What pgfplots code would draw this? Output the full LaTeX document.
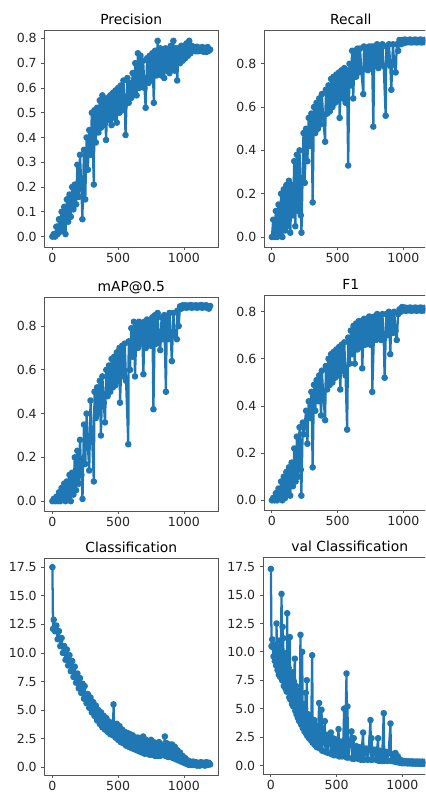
\documentclass[border=0pt]{standalone}
\usepackage{fontspec}
\setmainfont{DejaVu Sans}
\usepackage{pgfplots}
\pgfplotsset{compat=1.18}
\definecolor{mplblue}{HTML}{1F77B4}
\definecolor{framec}{HTML}{555555}
\pgfplotsset{
  sub/.style={
    scale only axis, anchor=south west,
    width=130.125pt,
    xmin=-60, xmax=1259,
    xtick={0,500,1000},
    xtick pos=bottom, ytick pos=left,
    tick align=outside, major tick length=2.3pt,
    axis line style={framec, line width=0.6pt},
    every tick/.style={framec, line width=0.6pt},
    tick label style={font=\fontsize{9.4}{11}\selectfont, color=black!85},
    /pgf/number format/assume math mode=true,
    every axis title shift=0pt,
    title style={font=\fontsize{10.4}{12}\selectfont, at={(0.5,1)}, anchor=base, yshift=4.3pt},
    yticklabel style={/pgf/number format/fixed, /pgf/number format/precision=1, /pgf/number format/fixed zerofill},
    xticklabel style={/pgf/number format/fixed, /pgf/number format/1000 sep={}, yshift=1.2pt},
  },
  ser/.style={mplblue, line width=1.7pt, line join=round, mark=*, mark size=1.6pt, mark options={draw=none, fill=mplblue}},
}
\begin{document}
\begin{tikzpicture}
\useasboundingbox (0,0) rectangle (318.75pt,594pt);
\clip (0,0) rectangle (318.75pt,594pt);

% Precision
\begin{axis}[sub, at={(33.375pt,408.75pt)}, height=162.75pt, ymin=-0.042, ymax=0.834,
  ytick={0,0.1,0.2,0.3,0.4,0.5,0.6,0.7,0.8}, title={Precision}]
\addplot[ser] table {
0 0.00
10 0.01
20 0.00
30 0.04
40 0.01
50 0.07
60 0.02
70 0.10
80 0.03
90 0.12
100 0.01
110 0.15
120 0.06
130 0.17
140 0.08
150 0.20
160 0.11
170 0.21
180 0.13
190 0.29
200 0.16
210 0.33
220 0.20
228 0.07
240 0.35
250 0.15
260 0.40
270 0.27
280 0.43
290 0.33
300 0.50
315 0.21
320 0.51
330 0.38
340 0.52
350 0.42
360 0.55
370 0.44
380 0.57
390 0.45
400 0.55
408 0.39
420 0.56
430 0.47
440 0.57
450 0.45
460 0.58
470 0.48
480 0.59
490 0.46
500 0.60
510 0.50
520 0.61
530 0.51
540 0.63
550 0.53
556 0.41
570 0.64
580 0.54
590 0.62
600 0.56
610 0.66
620 0.58
630 0.70
640 0.57
650 0.74
660 0.60
670 0.73
680 0.61
690 0.71
700 0.60
709 0.52
720 0.72
730 0.62
740 0.73
750 0.63
760 0.74
771 0.54
780 0.75
790 0.65
800 0.79
810 0.66
820 0.76
830 0.65
840 0.75
850 0.64
860 0.76
870 0.67
880 0.75
890 0.66
900 0.77
910 0.68
920 0.79
930 0.67
940 0.76
949 0.63
960 0.76
970 0.70
980 0.77
990 0.71
1000 0.77
1010 0.72
1020 0.78
1030 0.73
1040 0.79
1050 0.74
1060 0.77
1070 0.75
1080 0.765
1090 0.748
1100 0.766
1110 0.748
1120 0.762
1130 0.75
1140 0.765
1150 0.746
1160 0.76
1170 0.745
1180 0.765
1190 0.75
1199 0.755
};
\end{axis}

% Recall
\begin{axis}[sub, at={(198pt,408.75pt)}, height=162.75pt, ymin=-0.046, ymax=0.956,
  ytick={0,0.2,0.4,0.6,0.8}, title={Recall}]
\addplot[ser] table {
0 0.00
10 0.08
20 0.00
30 0.12
40 0.00
50 0.15
60 0.02
70 0.20
80 0.00
90 0.22
100 0.03
110 0.24
120 0.05
130 0.26
140 0.02
150 0.24
160 0.10
170 0.35
178 0.05
190 0.38
200 0.12
210 0.40
220 0.10
225 0.02
240 0.48
250 0.25
260 0.50
270 0.35
280 0.55
290 0.42
300 0.57
310 0.16
320 0.60
330 0.48
340 0.62
350 0.50
360 0.64
370 0.52
380 0.66
390 0.55
405 0.44
410 0.68
420 0.57
430 0.70
440 0.58
450 0.73
460 0.60
470 0.74
480 0.62
490 0.75
500 0.63
510 0.76
515 0.55
530 0.77
540 0.64
550 0.78
560 0.62
570 0.77
580 0.33
590 0.80
600 0.70
610 0.86
618 0.64
630 0.86
640 0.74
650 0.87
660 0.76
670 0.87
680 0.77
695 0.66
700 0.88
710 0.78
720 0.87
730 0.77
740 0.88
750 0.78
760 0.88
771 0.51
780 0.88
790 0.79
800 0.89
810 0.78
820 0.88
830 0.80
840 0.89
850 0.79
865 0.56
870 0.88
880 0.80
890 0.89
900 0.79
908 0.68
920 0.89
930 0.80
941 0.76
950 0.89
960 0.86
970 0.91
980 0.89
990 0.91
1000 0.895
1010 0.912
1020 0.898
1030 0.91
1040 0.90
1050 0.912
1060 0.898
1070 0.91
1080 0.90
1090 0.912
1100 0.898
1110 0.91
1120 0.90
1130 0.912
1140 0.898
1150 0.91
1160 0.90
1170 0.912
1180 0.898
1190 0.91
1199 0.905
};
\end{axis}

% mAP@0.5
\begin{axis}[sub, at={(33.375pt,210.75pt)}, height=160.5pt, ymin=-0.045, ymax=0.933,
  ytick={0,0.2,0.4,0.6,0.8}, title={mAP@0.5}]
\addplot[ser] table {
0 0.00
10 0.01
20 0.00
30 0.02
40 0.00
50 0.04
60 0.00
70 0.06
80 0.01
90 0.08
100 0.00
110 0.09
120 0.02
130 0.12
140 0.00
150 0.13
160 0.03
170 0.20
180 0.05
190 0.23
200 0.08
210 0.28
220 0.12
229 0.01
240 0.35
250 0.17
260 0.40
270 0.25
280 0.14
290 0.46
300 0.32
315 0.09
320 0.50
330 0.38
340 0.52
350 0.40
360 0.55
369 0.30
380 0.57
390 0.45
400 0.36
410 0.60
420 0.48
430 0.62
440 0.50
450 0.65
460 0.52
470 0.66
480 0.53
490 0.68
500 0.55
510 0.70
514 0.45
530 0.71
540 0.57
550 0.72
560 0.55
577 0.26
580 0.73
590 0.60
600 0.79
610 0.66
620 0.82
628 0.57
640 0.80
650 0.70
660 0.82
670 0.72
680 0.81
692 0.58
700 0.82
710 0.70
720 0.83
730 0.72
740 0.82
750 0.71
760 0.84
768 0.42
780 0.85
790 0.72
800 0.86
810 0.73
820 0.69
830 0.84
840 0.74
850 0.85
863 0.50
870 0.84
880 0.74
890 0.86
900 0.75
908 0.64
920 0.86
930 0.76
946 0.74
950 0.87
960 0.80
970 0.89
980 0.88
990 0.895
1000 0.885
1010 0.895
1020 0.884
1030 0.894
1040 0.886
1050 0.896
1060 0.884
1070 0.894
1080 0.886
1090 0.895
1100 0.884
1110 0.894
1120 0.886
1130 0.896
1140 0.884
1150 0.894
1160 0.886
1170 0.895
1180 0.883
1190 0.880
1199 0.892
};
\end{axis}

% F1
\begin{axis}[sub, at={(198pt,211.5pt)}, height=161.25pt, ymin=-0.041, ymax=0.871,
  ytick={0,0.2,0.4,0.6,0.8}, title={F1}]
\addplot[ser] table {
0 0.00
10 0.01
20 0.00
30 0.03
40 0.00
50 0.05
60 0.01
70 0.08
80 0.00
90 0.10
100 0.01
110 0.12
120 0.03
130 0.14
140 0.02
150 0.16
160 0.06
170 0.22
180 0.08
190 0.27
200 0.10
210 0.31
220 0.13
224 0.02
235 0.33
242 0.28
260 0.38
270 0.24
280 0.42
290 0.35
300 0.46
310 0.14
320 0.49
330 0.38
340 0.51
350 0.42
360 0.53
374 0.36
380 0.55
390 0.45
405 0.34
410 0.57
420 0.47
430 0.60
440 0.49
450 0.62
460 0.50
470 0.63
480 0.52
490 0.64
500 0.53
510 0.65
520 0.47
530 0.66
540 0.55
550 0.67
560 0.53
572 0.30
580 0.69
590 0.58
600 0.72
610 0.62
620 0.74
630 0.58
640 0.75
650 0.64
660 0.76
670 0.65
680 0.76
687 0.56
700 0.77
710 0.66
720 0.77
730 0.67
740 0.78
750 0.66
760 0.77
763 0.46
780 0.78
790 0.68
800 0.79
810 0.69
820 0.78
830 0.68
840 0.79
850 0.69
857 0.52
870 0.79
880 0.70
890 0.80
900 0.62
910 0.79
920 0.71
930 0.80
940 0.72
949 0.68
960 0.79
970 0.81
980 0.80
990 0.82
1000 0.805
1010 0.818
1020 0.804
1030 0.816
1040 0.806
1050 0.818
1060 0.804
1070 0.816
1080 0.806
1090 0.818
1100 0.804
1110 0.816
1120 0.806
1130 0.818
1140 0.804
1150 0.816
1160 0.806
1170 0.818
1180 0.804
1190 0.814
1199 0.81
};
\end{axis}

% Classification
\begin{axis}[sub, at={(33.375pt,12.75pt)}, height=162.75pt, ymin=-0.67, ymax=18.3,
  ytick={0,2.5,5,7.5,10,12.5,15,17.5}, title={Classification}]
\addplot[ser] table {
0 17.5
5 12.1
10 12.9
20 11.9
30 12.4
40 11.2
50 11.9
60 10.6
70 11.3
80 10.0
90 10.6
100 9.4
110 10.3
120 8.9
130 9.8
140 8.4
150 9.3
160 7.9
170 8.8
180 7.4
190 8.2
200 6.9
210 7.8
220 6.5
230 7.3
240 6.0
245 7.1
260 5.6
270 6.4
280 5.2
290 6.1
300 4.8
310 5.7
320 4.5
330 5.4
340 4.1
350 5.0
360 3.8
370 4.8
380 3.5
390 4.5
400 3.3
410 4.3
420 3.1
430 4.0
440 2.9
450 3.9
460 2.8
465 5.5
470 3.3
480 2.6
490 3.8
500 2.4
510 3.6
520 2.2
530 3.3
540 2.1
550 3.1
560 1.9
570 3.0
580 1.8
590 2.9
600 1.7
610 2.8
620 1.6
630 2.6
640 1.5
650 2.6
660 1.4
670 2.5
680 1.3
690 2.7
700 1.2
710 2.4
720 1.2
730 2.3
740 1.1
750 2.4
760 1.1
770 2.2
780 1.0
790 2.1
800 1.0
810 2.2
820 1.0
830 2.0
840 1.1
855 2.7
860 1.0
870 2.1
880 0.9
890 2.0
900 0.9
910 2.0
920 0.8
930 1.8
940 0.7
950 1.5
960 0.6
970 1.3
980 0.5
990 1.0
1000 0.4
1010 0.8
1020 0.3
1030 0.6
1040 0.2
1050 0.5
1060 0.2
1070 0.5
1080 0.2
1090 0.45
1100 0.15
1110 0.4
1120 0.15
1130 0.45
1140 0.2
1150 0.4
1160 0.15
1170 0.45
1180 0.2
1190 0.4
1199 0.25
};
\end{axis}

% val Classification
\begin{axis}[sub, at={(197.25pt,13.5pt)}, height=162.75pt, ymin=-0.75, ymax=18.35,
  ytick={0,2.5,5,7.5,10,12.5,15,17.5}, title={val Classification}]
\addplot[ser] table {
0 17.3
5 10.5
10 11.1
15 10.4
20 9.6
25 10.6
30 9.2
35 10.3
40 8.8
43 12.5
46 9.2
50 8.4
55 9.8
60 8.0
65 11.0
70 7.8
75 9.5
81 15.1
85 7.5
89 12.2
92 7.7
94 11.2
98 7.0
105 9.9
110 6.8
115 9.0
120 6.5
124 13.4
128 6.6
135 8.6
140 6.0
144 11.3
148 5.8
155 7.8
160 5.4
165 8.2
170 5.2
175 7.4
182 9.4
186 4.8
190 7.0
195 4.5
200 6.6
205 4.2
210 6.2
215 3.9
220 6.0
225 11.5
230 3.6
238 10.0
242 3.3
250 5.4
255 3.0
260 5.0
265 6.4
268 2.8
273 7.5
277 2.6
285 4.5
290 2.4
300 4.2
305 2.2
314 9.7
318 2.0
325 3.8
329 4.0
335 1.8
345 3.5
350 1.6
360 3.3
367 5.5
372 1.5
380 3.0
385 4.9
390 1.3
400 2.8
410 3.9
415 1.2
425 2.7
435 1.1
445 2.6
456 2.9
460 1.0
470 2.4
480 0.9
490 2.3
500 0.9
514 3.2
520 0.8
530 2.1
540 0.8
550 2.0
557 5.0
562 0.8
575 8.1
578 0.7
582 5.2
588 0.7
600 1.9
613 3.0
618 0.6
630 2.4
635 0.6
650 1.7
660 0.6
675 1.6
685 0.5
701 2.9
706 0.5
720 1.5
735 0.5
745 1.5
757 4.0
761 0.5
765 2.4
770 0.5
785 1.4
800 0.5
815 2.4
820 0.4
835 1.3
845 0.4
858 4.6
862 0.4
875 1.2
885 0.4
895 1.1
909 3.7
913 0.4
925 1.0
935 0.35
947 1.1
955 0.3
965 0.8
975 0.25
985 0.5
1000 0.2
1010 0.4
1020 0.2
1030 0.38
1040 0.18
1050 0.36
1060 0.18
1070 0.36
1080 0.16
1090 0.35
1100 0.16
1110 0.35
1120 0.15
1130 0.34
1140 0.15
1150 0.34
1160 0.15
1170 0.33
1180 0.15
1190 0.33
1199 0.2
};
\end{axis}
\end{tikzpicture}
\end{document}
